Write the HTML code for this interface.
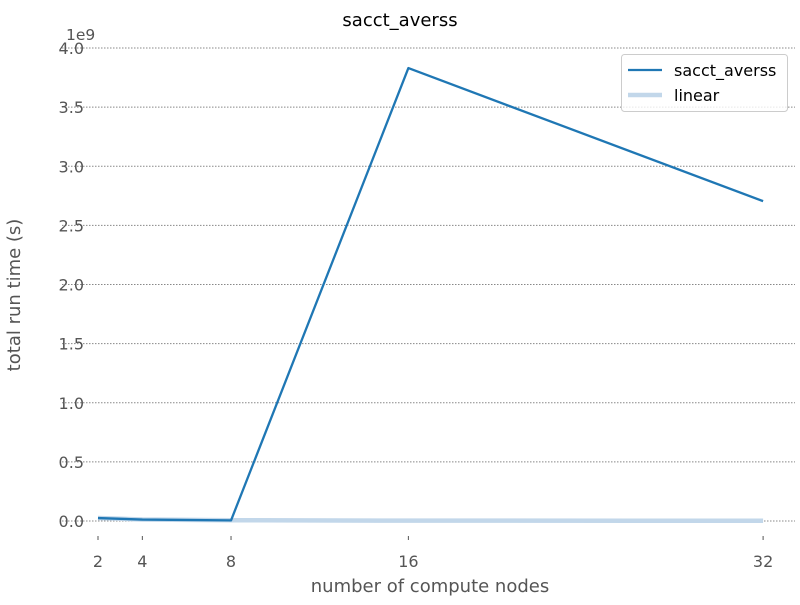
<!DOCTYPE html>
<html><head><meta charset="utf-8"><style>
body{margin:0;background:#fff}
text{font-family:"DejaVu Sans","Liberation Sans",sans-serif}
</style></head><body>
<svg id="chart" width="800" height="600">
<text x="400" y="26" text-anchor="middle" font-size="18" fill="#000">sacct_averss</text>
<text x="66" y="40" font-size="15.5" fill="#555">1e9</text>
<g id="grid"></g><g id="xt"></g><g id="yt"></g><g id="lines"></g>
<text x="430" y="592" text-anchor="middle" font-size="18" fill="#555">number of compute nodes</text>
<text transform="translate(20,295) rotate(-90)" text-anchor="middle" font-size="18" fill="#555">total run time (s)</text>
<g>
<rect x="621.5" y="54.5" width="166" height="57" rx="3" fill="#fff" fill-opacity="0.8" stroke="#ccc"/>
<line x1="628" y1="70" x2="662" y2="70" stroke="#1f77b4" stroke-width="2.2"/>
<text x="674" y="76" font-size="16" fill="#000">sacct_averss</text>
<line x1="628" y1="95" x2="662" y2="95" stroke="#c2d7ea" stroke-width="4.5"/>
<text x="674" y="101" font-size="16" fill="#000">linear</text>
</g>
</svg>
<script>
const nodes=[2,4,8,16,32];
const averss=[0.025,0.012,0.005,3.83,2.705];
const linear=[0.025,0.0125,0.00625,0.003125,0.0016];
const yTicks=[0,0.5,1.0,1.5,2.0,2.5,3.0,3.5,4.0];
const yLabels=["0.0","0.5","1.0","1.5","2.0","2.5","3.0","3.5","4.0"];
const ns="http://www.w3.org/2000/svg";
const xs=v=>98+(v-2)*22.17;
const ys=v=>521-v*118.25;
function mk(p,t,a){const e=document.createElementNS(ns,t);for(const k in a)e.setAttribute(k,a[k]);document.getElementById(p).appendChild(e);return e;}
yTicks.forEach((t,i)=>{
 const l=mk('grid','line',{x1:62,x2:795,y1:ys(t),y2:ys(t),stroke:'#888','stroke-dasharray':'1.5,1.5','stroke-width':1});
 
 
 const tx=mk('yt','text',{x:84,y:ys(t)+6,'text-anchor':'end','font-size':16,fill:'#555'});
 tx.textContent=yLabels[i];
 
 
});
nodes.forEach(n=>{
 const l=mk('xt','line',{x1:xs(n),x2:xs(n),y1:536,y2:540,stroke:'#555'});
 
 
 const tx=mk('xt','text',{x:xs(n),y:567,'text-anchor':'middle','font-size':16,fill:'#555'});
 tx.textContent=n;
 
 
});
const pts=a=>a.map((v,i)=>xs(nodes[i])+','+ys(v)).join(' ');
const lin=mk('lines','polyline',{points:pts(linear),fill:'none',stroke:'#c2d7ea','stroke-width':4.5});


const av=mk('lines','polyline',{points:pts(averss),fill:'none',stroke:'#1f77b4','stroke-width':2.3,'stroke-linejoin':'round'});


</script>
</body></html>
